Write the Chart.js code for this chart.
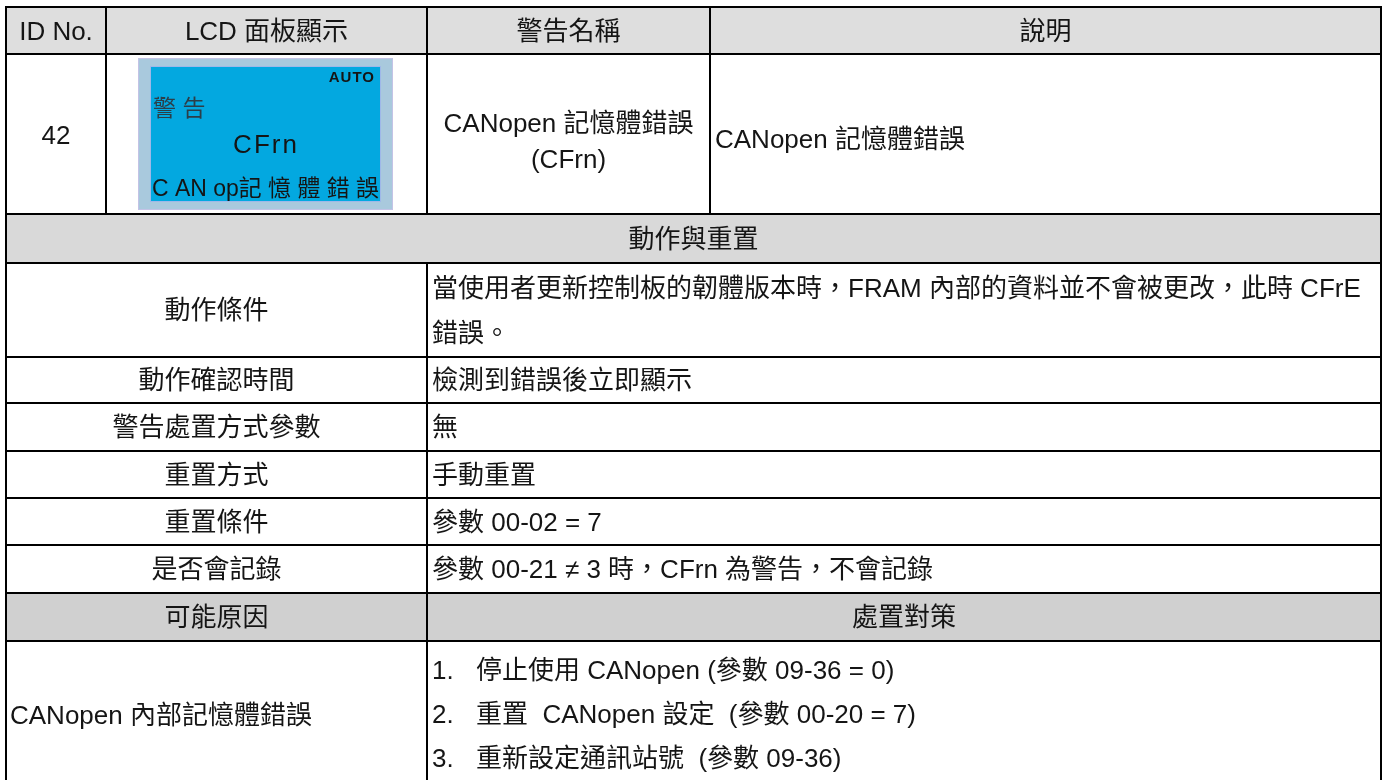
<!DOCTYPE html>
<html lang="zh-Hant">
<head>
<meta charset="utf-8">
<script src="https://cdn.jsdelivr.net/npm/chart.js@4.4.1/dist/chart.umd.min.js"></script>
<style>
  html, body { margin: 0; padding: 0; background: #fff; }
  canvas { display: block; }
</style>
</head>
<body>
<canvas id="warnTable" width="1384" height="780" lang="zh-Hant"></canvas>
<script>
// table content
const headers = ['ID No.', 'LCD 面板顯示', '警告名稱', '說明'];
const warnId = '42';
const lcdLines = ['AUTO', '警 告', 'CFrn', 'C AN op記 憶 體 錯 誤'];
const warnName = ['CANopen 記憶體錯誤', '(CFrn)'];
const warnDesc = ['CANopen 記憶體錯誤'];
const sectionTitle = '動作與重置';
const actionLabels = ['動作條件', '動作確認時間', '警告處置方式參數', '重置方式', '重置條件', '是否會記錄'];
const actionValues = [
  ['當使用者更新控制板的韌體版本時，FRAM 內部的資料並不會被更改，此時 CFrE', '錯誤。'],
  ['檢測到錯誤後立即顯示'],
  ['無'],
  ['手動重置'],
  ['參數 00-02 = 7'],
  ['參數 00-21 ≠ 3 時，CFrn 為警告，不會記錄']
];
const causeHeaders = ['可能原因', '處置對策'];
const causes = ['CANopen 內部記憶體錯誤'];
const measures = ['停止使用 CANopen (參數 09-36 = 0)', '重置  CANopen 設定  (參數 00-20 = 7)', '重新設定通訊站號  (參數 09-36)'];

// layout (page units, mapped through the chart scales)
const colX = [6, 106, 427, 710, 1381];
const rowY = [7, 54, 214, 263, 357, 403, 451, 498, 545, 593, 641, 800];
const FONT = '"Liberation Sans", Arial, "Noto Sans CJK TC", sans-serif';

const tablePlugin = {
  id: 'tablePlugin',
  beforeDraw(chart) {
    const ctx = chart.ctx;
    ctx.save();
    ctx.fillStyle = '#fff';
    ctx.fillRect(0, 0, chart.width, chart.height);
    ctx.restore();
  },
  afterDraw(chart) {
    const ctx = chart.ctx;
    const sx = v => chart.scales.x.getPixelForValue(v);
    const sy = v => chart.scales.y.getPixelForValue(v);

    function band(y0, y1, color) {
      ctx.fillStyle = color;
      ctx.fillRect(sx(colX[0]), sy(y0), sx(colX[4]) - sx(colX[0]), sy(y1) - sy(y0));
    }
    function txt(s, x, yc, align, size, opts) {
      opts = opts || {};
      size = size || 26;
      ctx.font = (opts.weight || '') + ' ' + size + 'px ' + FONT;
      ctx.fillStyle = opts.color || '#151515';
      ctx.textAlign = align || 'center';
      ctx.textBaseline = 'alphabetic';
      ctx.letterSpacing = (opts.spacing || 0) + 'px';
      if (opts.maxW) ctx.fillText(s, sx(x), sy(yc) + size * 0.36, opts.maxW);
      else ctx.fillText(s, sx(x), sy(yc) + size * 0.36);
      ctx.letterSpacing = '0px';
    }
    function hline(y, x0, x1) {
      ctx.beginPath();
      ctx.moveTo(sx(x0), sy(y));
      ctx.lineTo(sx(x1), sy(y));
      ctx.stroke();
    }
    function vline(x, y0, y1) {
      ctx.beginPath();
      ctx.moveTo(sx(x), sy(y0));
      ctx.lineTo(sx(x), sy(y1));
      ctx.stroke();
    }
    const mid = (a, b) => (a + b) / 2;

    ctx.save();
    // shaded rows
    band(rowY[0], rowY[1], '#dedede');
    band(rowY[2], rowY[3], '#d9d9d9');
    band(rowY[9], rowY[10], '#d0d0d0');

    // LCD panel
    ctx.fillStyle = '#a9c9dd';
    ctx.fillRect(sx(138), sy(58), sx(393) - sx(138), sy(210) - sy(58));
    ctx.strokeStyle = '#c3c3e6';
    ctx.lineWidth = 1;
    ctx.strokeRect(sx(138) + 0.5, sy(58) + 0.5, sx(393) - sx(138) - 1, sy(210) - sy(58) - 1);
    ctx.fillStyle = '#03a8e0';
    ctx.fillRect(sx(150), sy(66), sx(381) - sx(150), sy(202) - sy(66));
    ctx.strokeStyle = '#9fb8e8';
    ctx.strokeRect(sx(150) + 0.5, sy(66) + 0.5, sx(381) - sx(150) - 1, sy(202) - sy(66) - 1);
    txt(lcdLines[0], 375, 77, 'right', 15, { weight: 'bold', color: '#151515', spacing: 1 });
    txt(lcdLines[1], 153, 108, 'left', 23, { color: '#2c3e48' });
    txt(lcdLines[2], 266, 144, 'center', 26, { color: '#151515', spacing: 2 });
    txt(lcdLines[3], 152, 188, 'left', 23, { color: '#151515', maxW: 227 });

    // header texts
    for (let i = 0; i < headers.length; i++) {
      txt(headers[i], mid(colX[i], colX[i + 1]), 31, 'center');
    }
    // first data row
    txt(warnId, mid(colX[0], colX[1]), 135, 'center');
    txt(warnName[0], mid(colX[2], colX[3]), 123, 'center');
    txt(warnName[1], mid(colX[2], colX[3]), 159, 'center');
    txt(warnDesc[0], colX[3] + 5, 139, 'left');

    // section title
    txt(sectionTitle, mid(colX[0], colX[4]), mid(rowY[2], rowY[3]), 'center');

    // action rows
    for (let i = 0; i < actionLabels.length; i++) {
      const y0 = rowY[3 + i], y1 = rowY[4 + i];
      txt(actionLabels[i], mid(colX[0], colX[2]), mid(y0, y1), 'center');
      const vals = actionValues[i];
      const step = 45;
      const first = mid(y0, y1) - (vals.length - 1) * step / 2;
      vals.forEach((v, k) => txt(v, colX[2] + 5, first + k * step, 'left', 26, { maxW: colX[4] - colX[2] - 7 }));
    }

    // causes header
    txt(causeHeaders[0], mid(colX[0], colX[2]), mid(rowY[9], rowY[10]), 'center');
    txt(causeHeaders[1], mid(colX[2], colX[4]), mid(rowY[9], rowY[10]), 'center');

    // causes / measures
    txt(causes[0], colX[0] + 4, 715, 'left');
    measures.forEach((m, k) => {
      const y = 670 + k * 44;
      txt((k + 1) + '.', colX[2] + 5, y, 'left');
      txt(m, colX[2] + 49, y, 'left');
    });

    // grid lines
    ctx.strokeStyle = '#000';
    ctx.lineWidth = 2;
    for (let r = 0; r <= 10; r++) hline(rowY[r], colX[0] - 1, colX[4] + 1);
    vline(colX[0], rowY[0], rowY[11]);
    vline(colX[4], rowY[0], rowY[11]);
    vline(colX[1], rowY[0], rowY[2]);
    vline(colX[3], rowY[0], rowY[2]);
    vline(colX[2], rowY[0], rowY[2]);
    vline(colX[2], rowY[3], rowY[11]);
    ctx.restore();
  }
};

new Chart(document.getElementById('warnTable'), {
  type: 'scatter',
  data: { datasets: [] },
  options: {
    responsive: false,
    animation: false,
    events: [],
    layout: { padding: 0 },
    plugins: { legend: { display: false }, tooltip: { enabled: false } },
    scales: {
      x: { type: 'linear', min: 0, max: 1384, display: false },
      y: { type: 'linear', min: 0, max: 780, reverse: true, display: false }
    }
  },
  plugins: [tablePlugin]
});
</script>
</body>
</html>
